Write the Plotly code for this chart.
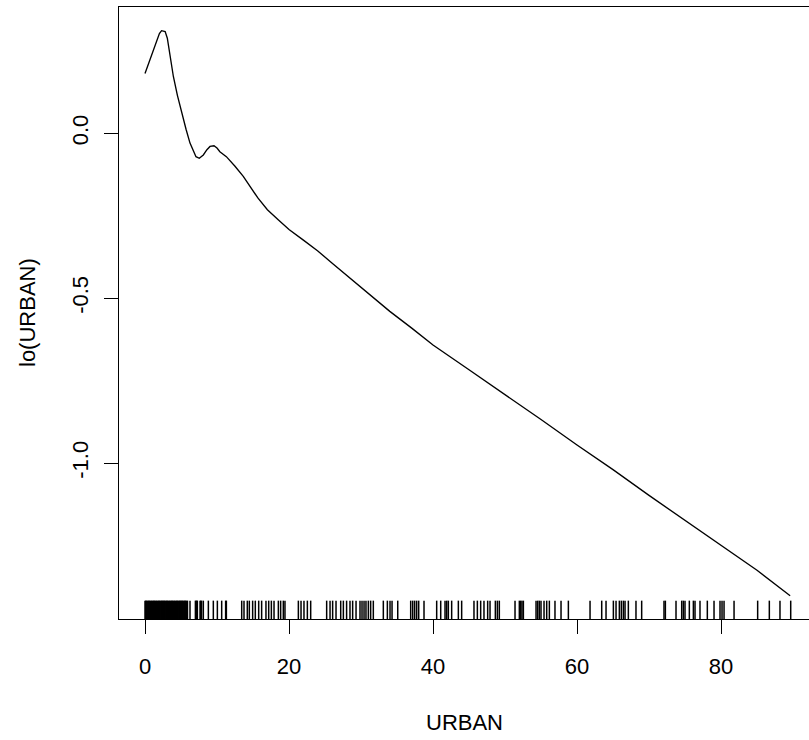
import plotly.graph_objects as go

# Smoothed loess term for URBAN
urban_x = [0.0, 0.5, 1.0, 1.5, 2.0, 2.3, 2.8, 3.1, 3.5, 3.94, 4.5, 5.1, 5.7,
           6.25, 6.7, 7.08, 7.54, 8.1, 8.6, 9.03, 9.58, 10.0, 10.4, 11.3,
           12.5, 13.65, 15.7, 17.0, 18.5, 20.0, 22.0, 24.0, 26.0, 28.0, 30.0,
           32.0, 34.0, 37.0, 40.0, 45.0, 50.0, 55.0, 60.0, 65.0, 70.0, 75.0,
           80.0, 85.0, 89.6]
lo_urban = [0.181, 0.212, 0.243, 0.273, 0.302, 0.311, 0.308, 0.288, 0.235,
            0.172, 0.115, 0.061, 0.012, -0.030, -0.055, -0.071, -0.076,
            -0.066, -0.050, -0.040, -0.038, -0.045, -0.056, -0.071, -0.100,
            -0.131, -0.197, -0.232, -0.262, -0.292, -0.324, -0.357, -0.394,
            -0.431, -0.468, -0.505, -0.540, -0.590, -0.642, -0.717, -0.792,
            -0.868, -0.945, -1.020, -1.098, -1.173, -1.250, -1.325, -1.402]

# Observed URBAN values (rug)
urban_obs = [0.0, 0.1, 0.2, 0.3, 0.4, 0.5, 0.6, 0.7, 0.8, 0.9, 1.0, 1.1,
             1.2, 1.3, 1.4, 1.5, 1.6, 1.7, 1.8, 1.9, 2.0, 2.1, 2.2, 2.3,
             2.4, 2.5, 2.6, 2.7, 2.8, 2.9, 3.0, 3.1, 3.2, 3.3, 3.4, 3.5,
             3.6, 3.7, 3.8, 3.9, 4.0, 4.1, 4.2, 4.3, 4.4, 4.5, 4.6, 4.7,
             4.8, 4.9, 5.0, 5.1, 5.2, 5.3, 5.4, 5.5, 5.6, 5.7, 5.8, 5.9,
             6.25, 7.0, 7.08, 7.18, 7.27, 7.65, 7.73, 7.85, 8.1, 8.8, 9.49,
             10.05, 10.65, 11.2, 11.3, 13.43, 13.75, 14.21, 14.49, 14.95,
             15.32, 15.79, 16.2, 16.8, 17.18, 17.55, 17.92, 18.52, 18.84,
             19.21, 19.44, 21.3, 21.67, 22.08, 22.55, 23.01, 25.23, 25.7,
             26.06, 26.53, 27.18, 27.55, 28.0, 28.47,
             28.84, 29.31, 29.86, 30.14, 30.42, 30.69, 31.02, 31.34, 31.71,
             33.1, 33.66, 34.03, 34.31, 35.1, 36.9, 37.18, 37.45, 37.73,
             38.01, 38.75, 40.51, 41.07, 41.67, 41.9, 42.13, 42.59, 43.52,
             43.98, 45.69, 46.16, 46.62, 47.08, 47.59, 47.92, 48.66, 48.94,
             49.21, 51.39, 51.99, 52.18, 52.36, 52.55, 54.31, 54.54, 54.77,
             55.0, 55.42, 55.79, 56.16, 56.94, 57.78, 58.8, 61.81, 63.43,
             64.03, 65.05, 65.42, 65.88, 66.16, 66.44, 66.67, 67.13, 68.19,
             68.98, 72.08, 72.27, 73.75, 74.54, 74.77, 75.0, 75.6, 76.16,
             76.39, 77.08, 78.1, 79.03, 79.86, 80.14, 80.42, 81.81, 85.09,
             86.71, 88.19, 89.68]

x_ticks = [0, 20, 40, 60, 80]
y_ticks = [-1.0, -0.5, 0.0]
y_tick_text = ["-1.0", "-0.5", "0.0"]

FONT = "Liberation Sans, Arial, Helvetica, sans-serif"
LW = 1.35

fig = go.Figure()
fig.add_trace(go.Scatter(x=urban_x, y=lo_urban, mode="lines",
                         line=dict(color="black", width=LW),
                         showlegend=False, hoverinfo="skip"))

# rug along the bottom edge
for v in urban_obs:
    fig.add_shape(type="line", xref="x", yref="y domain",
                  x0=v, x1=v, y0=0, y1=0.03,
                  line=dict(color="black", width=1.5))

fig.update_layout(
    width=809, height=740, autosize=False,
    margin=dict(l=119, r=0, t=7, b=121),
    plot_bgcolor="white", paper_bgcolor="white",
    font=dict(family=FONT, size=22, color="black"),
    xaxis=dict(range=[-3.611, 92.22], tickvals=x_ticks,
               showline=True, linecolor="black", linewidth=LW, mirror=True,
               ticks="outside", ticklen=14, tickwidth=LW, tickcolor="black",
               showgrid=False, zeroline=False, ticklabelstandoff=13),
    yaxis=dict(range=[-1.4727, 0.3827], tickvals=y_ticks,
               ticktext=y_tick_text, tickangle=-90,
               showline=True, linecolor="black", linewidth=LW,
               ticks="outside", ticklen=14, tickwidth=LW, tickcolor="black",
               showgrid=False, zeroline=False, ticklabelstandoff=7),
    annotations=[
        dict(text="URBAN", xref="paper", yref="paper", x=0.5, y=0,
             xanchor="center", yanchor="middle", yshift=-103,
             showarrow=False, font=dict(family=FONT, size=22)),
        dict(text="lo(URBAN)", xref="paper", yref="paper", x=0, y=0.5,
             xanchor="center", yanchor="middle", xshift=-92, textangle=-90,
             showarrow=False, font=dict(family=FONT, size=22)),
    ],
)

fig.write_html("out.html")
